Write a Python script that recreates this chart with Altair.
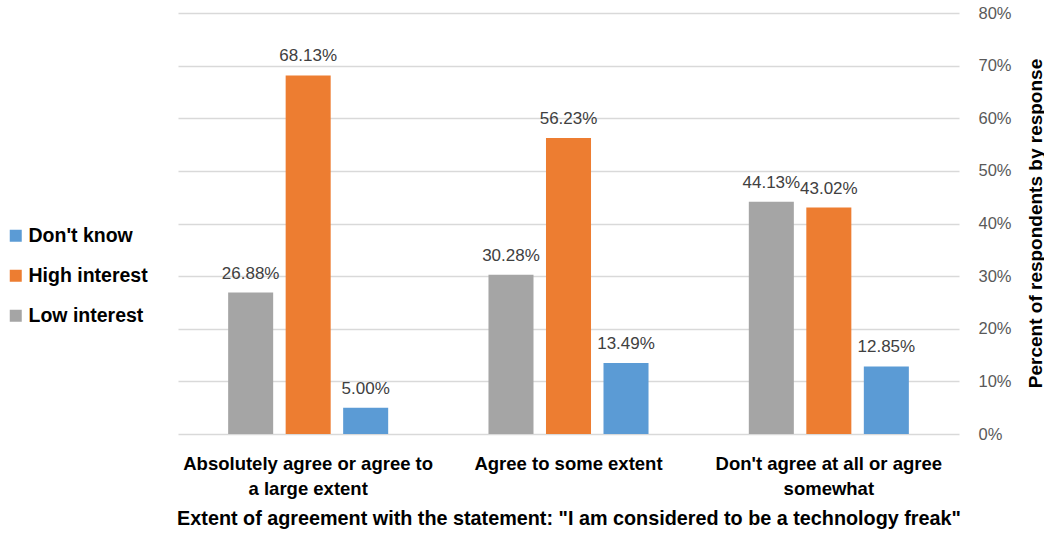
import altair as alt
import pandas as pd

categories = ["Absolutely agree or agree to|a large extent", "Agree to some extent", "Don't agree at all or agree|somewhat"]
series = ["Low interest", "High interest", "Don't know"]
low_interest = [26.88, 30.28, 44.13]
high_interest = [68.13, 56.23, 43.02]
dont_know = [5.00, 13.49, 12.85]

rows = []
for i, c in enumerate(categories):
    rows.append({"cat": c, "series": "Low interest", "value": low_interest[i]})
    rows.append({"cat": c, "series": "High interest", "value": high_interest[i]})
    rows.append({"cat": c, "series": "Don't know", "value": dont_know[i]})
df = pd.DataFrame(rows)
df["label"] = df["value"].map(lambda v: f"{v:.2f}%")

FONT = "Liberation Sans"

x_enc = alt.X("cat:N", sort=categories,
              scale=alt.Scale(paddingInner=0, paddingOuter=0),
              axis=alt.Axis(title='Extent of agreement with the statement: "I am considered to be a technology freak"',
                            labelExpr="split(datum.label, '|')",
                            labelAngle=0, labelFont=FONT, labelFontSize=18.5, labelFontWeight="bold",
                            labelColor="#000000", labelPadding=20, labelLineHeight=25, labelLimit=0,
                            ticks=False, domain=False, grid=False,
                            titleFont=FONT, titleFontSize=19.8, titleFontWeight="bold",
                            titleColor="#000000", titlePadding=11))
xo_enc = alt.XOffset("series:N", sort=series,
                     scale=alt.Scale(paddingInner=0.217, paddingOuter=0.872))
y_scale = alt.Scale(domain=[0, 80], nice=False)

bars = alt.Chart(df).mark_bar().encode(
    x=x_enc,
    xOffset=xo_enc,
    y=alt.Y("value:Q", scale=y_scale,
            axis=alt.Axis(orient="right", values=[0, 10, 20, 30, 40, 50, 60, 70, 80],
                          labelExpr="datum.value + '%'",
                          labelFont=FONT, labelFontSize=16.5, labelColor="#595959",
                          labelPadding=19, ticks=False, tickSize=0, domain=False,
                          grid=True, gridColor="#D9D9D9", gridWidth=1.5,
                          title="Percent of respondents by response",
                          titleFont=FONT, titleFontSize=19, titleFontWeight="bold",
                          titleColor="#000000", titleAngle=270, titleX=76, titleY=210,
                          titleAlign="center", titleBaseline="middle")),
    color=alt.Color("series:N",
                    scale=alt.Scale(domain=["Don't know", "High interest", "Low interest"],
                                    range=["#5B9BD5", "#ED7D31", "#A5A5A5"]),
                    legend=alt.Legend(title=None, orient="none", legendX=-172, legendY=213,
                                      symbolType="square", symbolSize=144, symbolStrokeWidth=0,
                                      labelFont=FONT, labelFontSize=19.5, labelFontWeight="bold",
                                      labelColor="#000000", labelOffset=3, rowPadding=19)),
)

labels = alt.Chart(df).mark_text(baseline="alphabetic", dy=-14, font=FONT, fontSize=17,
                                 color="#404040").encode(
    x=alt.X("cat:N", sort=categories),
    xOffset=alt.XOffset("series:N", sort=series),
    y=alt.Y("value:Q", scale=y_scale),
    text="label:N",
)

chart = (bars + labels).properties(
    width=781, height=421,
    autosize=alt.AutoSizeParams(type="none"),
    padding={"left": 178, "top": 13, "right": 85, "bottom": 99},
    background="#FFFFFF",
).configure_view(stroke=None)

chart.save("out.html", embed_options={"renderer": "svg", "actions": False})
